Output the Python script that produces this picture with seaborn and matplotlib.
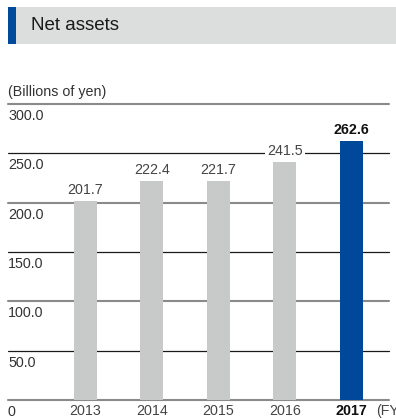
import matplotlib
matplotlib.use("Agg")
import matplotlib.pyplot as plt
import matplotlib.patches as mpatches
import matplotlib.transforms as mtransforms
import seaborn as sns
import pandas as pd

# Net assets by fiscal year (billions of yen)
years = ["2013", "2014", "2015", "2016", "2017"]
net_assets = [201.7, 222.4, 221.7, 241.5, 262.6]
value_labels = ["201.7", "222.4", "221.7", "241.5", "262.6"]
grid_values = [0, 50, 100, 150, 200, 250, 300]
grid_labels = ["0", "50.0", "100.0", "150.0", "200.0", "250.0", "300.0"]

sns.set_theme(style="white")
plt.rcParams["font.family"] = ["Liberation Sans", "DejaVu Sans"]

W, H = 396, 419
fig = plt.figure(figsize=(W / 100, H / 100), dpi=100)

# axes: x from 8px to 389px, y from 0 at 400px to 300 at 104px
ax_left, ax_right = 8, 389
y0_px, y300_px = 400, 104
ax = fig.add_axes([ax_left / W, (H - y0_px) / H,
                   (ax_right - ax_left) / W, (y0_px - y300_px) / H])

df = pd.DataFrame({"year": years, "value": net_assets})
palette = {y: "#c8c9c9" for y in years}
palette["2017"] = "#00489a"
sns.barplot(data=df, x="year", y="value", hue="year", palette=palette,
            width=0.345, legend=False, ax=ax, zorder=3, saturation=1,
            linewidth=0)

ax.set_ylim(0, 300)
ax.set_xlim(-1.156, 4.563)
ax.axis("off")

# horizontal rules: gray heavy at hundreds, thin black at fifties
for v in grid_values:
    if v % 100 == 0:
        ax.axhline(v, color="#8a8a8a", lw=1.5, zorder=1, clip_on=False)
    else:
        ax.axhline(v, color="#1a1a1a", lw=0.9, zorder=1, clip_on=False)

# y value labels sit just below their rules at the left edge
for v, lab in zip(grid_values, grid_labels):
    off = mtransforms.offset_copy(ax.transData, fig=fig, x=0, y=-5, units="dots")
    ax.text(-1.156, v, lab, transform=off,
            ha="left", va="top", fontsize=10.3, color="#333333")

# bar value labels
for i, (v, lab) in enumerate(zip(net_assets, value_labels)):
    off = mtransforms.offset_copy(ax.transData, fig=fig, x=0, y=4, units="dots")
    last = i == len(years) - 1
    kw = dict(ha="center", va="bottom", fontsize=10.3, transform=off, zorder=5,
              color="#111111" if last else "#444444",
              fontweight="bold" if last else "normal")
    if lab == "241.5":
        kw["bbox"] = dict(facecolor="white", edgecolor="none", pad=1.5)
    ax.text(i, v, lab, **kw)

# year labels below the baseline
for i, y in enumerate(years):
    last = i == len(years) - 1
    fig.text((ax.transData.transform((i, 0))[0]) / W, (H - 411) / H, y,
             ha="center", va="center", fontsize=10.3,
             color="#111111" if last else "#444444",
             fontweight="bold" if last else "normal")
fig.text(376 / W, (H - 411) / H, "(FY)", ha="left", va="center",
         fontsize=10.3, color="#444444")

# unit caption
fig.text(8 / W, (H - 92) / H, "(Billions of yen)", ha="left", va="center",
         fontsize=10.3, color="#333333")

# header band with blue accent stripe
fig.patches.append(mpatches.Rectangle((8 / W, (H - 44) / H), (W - 8) / W, 37 / H,
                                      transform=fig.transFigure, facecolor="#dcdddd",
                                      edgecolor="none", zorder=0))
fig.patches.append(mpatches.Rectangle((8 / W, (H - 44) / H), 8 / W, 37 / H,
                                      transform=fig.transFigure, facecolor="#004a9c",
                                      edgecolor="none", zorder=1))
fig.text(31 / W, (H - 26) / H, "Net assets", ha="left", va="center",
         fontsize=13.5, color="#1a1a1a")

fig.savefig("out.png", dpi=100)
